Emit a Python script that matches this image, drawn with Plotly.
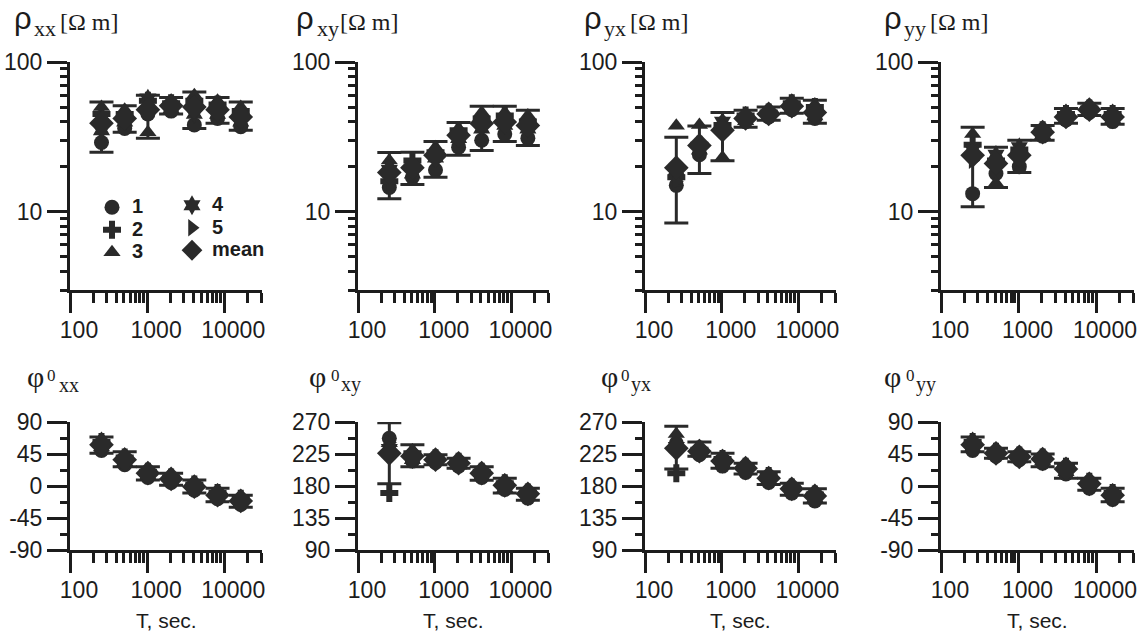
import plotly.graph_objects as go

W, H = 1143, 637

# ---------------- data ----------------
T = [256, 512, 1024, 2048, 4096, 8192, 16384]

# apparent resistivity [Ohm m]
rxx_mean = [39, 42, 48, 51, 50, 48, 43]
rxx_hi = [54, 51, 60, 58, 63, 58, 54]
rxx_lo = [25, 34, 31, 45, 36, 39, 35]
rxx_1 = [29, 36, 45, 47, 38, 42, 37]
rxx_2 = [45, 45, 55, 53, 55, 52, 47]
rxx_3 = [50, 48, 34, 55, 60, 55, 50]
rxx_4 = [35, 40, 57, 49, 45, 45, 40]
rxx_5 = [42, 44, 52, 52, 52, 47, 42]

rxy_mean = [18.3, 19.7, 23.8, 32.4, 38.9, 39.8, 37.7]
rxy_hi = [24.9, 25, 29.5, 39.5, 50.7, 50.7, 47.6]
rxy_lo = [12.2, 15.2, 17, 23.8, 25.6, 29.5, 27.7]
rxy_1 = [14.5, 17, 19, 27, 30, 33, 31]
rxy_2 = [16, 22, 25, 35, 42, 44, 40]
rxy_3 = [22, 21, 27, 36, 46, 46, 44]
rxy_4 = [19, 18, 23, 31, 36, 38, 36]
rxy_5 = [20, 20, 24, 33, 40, 39, 38]

ryx_mean = [19.7, 27.7, 35, 42, 45, 50.7, 46]
ryx_hi = [31.4, 37.3, 46, 47.6, 50, 57.3, 55.6]
ryx_lo = [8.4, 18, 21.9, 36.6, 40.9, 45.5, 39]
ryx_1 = [15, 24, 36, 40, 43, 48, 42]
ryx_2 = [17, 28, 38, 44, 46, 53, 50]
ryx_3 = [37.5, 38, 23, 45, 47, 55, 52]
ryx_4 = [19, 26, 40, 41, 44, 49, 44]
ryx_5 = [16, 25, 37, 42, 45, 50, 45]

ryy_mean = [23.8, 21, 23.8, 34, 43, 48, 43]
ryy_hi = [36.6, 26.9, 30, 37.7, 49, 53, 49]
ryy_lo = [10.8, 14.5, 18.3, 30, 39, 44, 38.4]
ryy_1 = [13.2, 18, 20, 32, 41, 46, 40]
ryy_2 = [28, 22, 26, 35, 45, 49, 45]
ryy_3 = [33, 15.5, 19, 36, 47, 51, 47]
ryy_4 = [26, 24, 27, 33, 42, 47, 42]
ryy_5 = [22, 21, 24, 34, 43, 48, 43]

# phases [deg]
pxx_mean = [58, 37, 18, 10, -1, -13, -21]
pxx_hi = [69, 48, 27, 18, 8.5, -3, -13]
pxx_lo = [46, 27, 8.5, 1, -10, -22, -30]
pxx_1 = [50, 30, 12, 5, -6, -18, -26]
pxx_2 = [62, 40, 20, 12, 2, -10, -18]
pxx_3 = [66, 44, 24, 15, 5, -7, -15]
pxx_4 = [56, 35, 16, 8, -3, -15, -23]
pxx_5 = [58, 37, 18, 10, -1, -13, -21]

pxy_mean = [226, 222, 217, 212, 198, 181, 169]
pxy_hi = [269, 238, 224, 219, 207, 191, 177]
pxy_lo = [183, 207, 210, 205, 188, 170, 160]
pxy_1 = [247, 215, 213, 208, 192, 175, 163]
pxy_2 = [170, 226, 219, 214, 200, 184, 171]
pxy_3 = [240, 230, 221, 216, 204, 187, 174]
pxy_4 = [232, 218, 215, 210, 195, 178, 166]
pxy_5 = [241, 221, 217, 212, 198, 181, 169]

pyx_mean = [233, 229, 215, 205, 191, 176, 166]
pyx_hi = [264, 242, 226, 212, 200, 184, 176]
pyx_lo = [204, 222, 205, 197, 182, 167, 156]
pyx_1 = [240, 224, 208, 199, 185, 170, 159]
pyx_2 = [198, 231, 218, 207, 194, 178, 168]
pyx_3 = [253, 236, 222, 210, 197, 181, 172]
pyx_4 = [235, 227, 212, 203, 189, 174, 164]
pyx_5 = [239, 229, 215, 205, 191, 176, 166]

pyy_mean = [58, 46, 41, 38, 24, 3, -13]
pyy_hi = [69, 53, 48, 45, 32, 11, -3]
pyy_lo = [48, 39, 34, 27, 11, -6, -22]
pyy_1 = [50, 42, 37, 32, 17, -3, -19]
pyy_2 = [62, 48, 43, 40, 27, 6, -10]
pyy_3 = [66, 50, 45, 43, 30, 9, -7]
pyy_4 = [55, 44, 39, 36, 21, 0, -15]
pyy_5 = [58, 46, 41, 38, 24, 3, -13]

station_names = ["1", "2", "3", "4", "5"]
mean_name = "mean"
comp_labels = ["xx", "xy", "yx", "yy"]

x_tickvals = [100, 1000, 10000]
x_ticktext = ["100", "1000", "10000"]
x_minor = [200, 300, 400, 500, 600, 700, 800, 900,
           2000, 3000, 4000, 5000, 6000, 7000, 8000, 9000, 20000, 30000]
rho_tickvals = [10, 100]
rho_ticktext = ["10", "100"]
rho_minor = [3, 4, 5, 6, 7, 8, 9, 20, 30, 40, 50, 60, 70, 80, 90]
phi_ticks_a = [-90, -45, 0, 45, 90]
phi_text_a = ["-90", "-45", "0", "45", "90"]
phi_minor_a = [-67.5, -22.5, 22.5, 67.5]
phi_ticks_b = [90, 135, 180, 225, 270]
phi_text_b = ["90", "135", "180", "225", "270"]
phi_minor_b = [112.5, 157.5, 202.5, 247.5]

panels = [
    (rxx_mean, rxx_lo, rxx_hi, [rxx_1, rxx_2, rxx_3, rxx_4, rxx_5]),
    (rxy_mean, rxy_lo, rxy_hi, [rxy_1, rxy_2, rxy_3, rxy_4, rxy_5]),
    (ryx_mean, ryx_lo, ryx_hi, [ryx_1, ryx_2, ryx_3, ryx_4, ryx_5]),
    (ryy_mean, ryy_lo, ryy_hi, [ryy_1, ryy_2, ryy_3, ryy_4, ryy_5]),
    (pxx_mean, pxx_lo, pxx_hi, [pxx_1, pxx_2, pxx_3, pxx_4, pxx_5]),
    (pxy_mean, pxy_lo, pxy_hi, [pxy_1, pxy_2, pxy_3, pxy_4, pxy_5]),
    (pyx_mean, pyx_lo, pyx_hi, [pyx_1, pyx_2, pyx_3, pyx_4, pyx_5]),
    (pyy_mean, pyy_lo, pyy_hi, [pyy_1, pyy_2, pyy_3, pyy_4, pyy_5]),
]

# ---------------- style ----------------
INK = "#1c1c1c"
MK = "#2a2a2a"
symbols = ["circle", "cross", "triangle-up", "hexagram", "triangle-right"]
col_px = [(70, 262), (358, 549), (645, 836), (941, 1134)]
top_px = (62, 290)
bot_px = (422, 550)
TICKFONT = dict(family="Arial, Liberation Sans", size=23, color=INK)


def xd(a, b):
    return [a / W, b / W]


def yd(a, b):
    return [1 - b / H, 1 - a / H]


fig = go.Figure()

for i, (mean, lo, hi, pts) in enumerate(panels):
    ax = "" if i == 0 else str(i + 1)
    xref, yref = "x" + ax, "y" + ax
    first = i == 0
    # error bars (mean with spread)
    fig.add_trace(go.Scatter(
        x=T, y=mean, xaxis=xref, yaxis=yref, mode="markers",
        marker=dict(size=2, color="rgba(0,0,0,0)"), showlegend=False,
        error_y=dict(type="data", symmetric=False,
                     array=[h - m for h, m in zip(hi, mean)],
                     arrayminus=[m - l for m, l in zip(mean, lo)],
                     color=MK, thickness=3, width=12),
        hoverinfo="skip"))
    for k, s in enumerate(pts):
        fig.add_trace(go.Scatter(
            x=T, y=s, xaxis=xref, yaxis=yref, mode="markers",
            name='<span style="font-size:20px">' + station_names[k] + '</span>',
            legend="legend" if k < 3 else "legend2",
            showlegend=first,
            marker=dict(symbol=symbols[k], size=15, color=MK)))
    fig.add_trace(go.Scatter(
        x=T, y=mean, xaxis=xref, yaxis=yref, mode="markers",
        name='<span style="font-size:20px">' + mean_name + '</span>',
        legend="legend2", showlegend=first,
        marker=dict(symbol="diamond", size=19, color=MK)))

LEGFONT = dict(family="Arial, Liberation Sans", size=15, color=INK, weight="bold")
layout = dict(
    width=W, height=H, margin=dict(l=0, r=0, t=0, b=0, autoexpand=False),
    paper_bgcolor="white", plot_bgcolor="rgba(0,0,0,0)",
    showlegend=True,
    legend=dict(x=92 / W, y=1 - 191 / H, xanchor="left", yanchor="top",
                font=LEGFONT, bgcolor="rgba(0,0,0,0)", itemwidth=30, tracegroupgap=0),
    legend2=dict(x=172 / W, y=1 - 189 / H, xanchor="left", yanchor="top",
                 font=LEGFONT, bgcolor="rgba(0,0,0,0)", itemwidth=30, tracegroupgap=0),
)

for i in range(8):
    ax = "" if i == 0 else str(i + 1)
    col = i % 4
    top = i < 4
    xa = dict(
        domain=xd(*col_px[col]), type="log", range=[2, 4.49],
        anchor="y" + ax, showline=True, linewidth=3, linecolor=INK,
        showgrid=False, zeroline=False, ticks="outside", ticklen=20, tickwidth=3,
        tickcolor=INK, tickmode="array", tickvals=x_tickvals, ticktext=x_ticktext,
        tickfont=TICKFONT, ticklabelshift=9, ticklabelstandoff=-3, automargin=False,
        minor=dict(tickmode="array", tickvals=x_minor, ticks="outside",
                   ticklen=10, tickwidth=3, tickcolor=INK, showgrid=False),
        fixedrange=True)
    if top:
        ya = dict(type="log", range=[0.4771, 2], tickvals=rho_tickvals,
                  ticktext=rho_ticktext,
                  minor=dict(tickmode="array", tickvals=rho_minor, ticks="outside",
                             ticklen=7, tickwidth=3, tickcolor=INK, showgrid=False))
        ydom = yd(*top_px)
    else:
        if col in (1, 2):
            ya = dict(range=[90, 270], tickvals=phi_ticks_b, ticktext=phi_text_b,
                      minor=dict(tickmode="array", tickvals=phi_minor_b, ticks="outside",
                                 ticklen=7, tickwidth=3, tickcolor=INK, showgrid=False))
        else:
            ya = dict(range=[-90, 90], tickvals=phi_ticks_a, ticktext=phi_text_a,
                      minor=dict(tickmode="array", tickvals=phi_minor_a, ticks="outside",
                                 ticklen=7, tickwidth=3, tickcolor=INK, showgrid=False))
        ydom = yd(*bot_px)
    ya.update(dict(domain=ydom, anchor="x" + ax, showline=True, linewidth=3,
                   linecolor=INK, showgrid=False, zeroline=False, ticks="outside",
                   ticklen=20, tickwidth=3, tickcolor=INK, tickmode="array",
                   tickfont=TICKFONT, ticklabelstandoff=0, automargin=False,
                   fixedrange=True))
    layout["xaxis" + ax] = xa
    layout["yaxis" + ax] = ya

# ---------------- panel titles ----------------
ann = []


def label(text, xpx, ybot, size, family):
    ann.append(dict(text=text, x=xpx / W, y=1 - ybot / H, xref="paper", yref="paper",
                    xanchor="left", yanchor="bottom", showarrow=False, borderpad=0,
                    font=dict(family=family, size=size, color=INK)))


SERIF = "Liberation Serif, Times New Roman, serif"
SANS = "Arial, Liberation Sans"
rho_left = [13, 295, 583, 883]
rho_sub_left = [33, 316, 603, 903]
rho_unit_left = [59, 339, 629, 929]
phi_left = [26, 308, 600, 883]
phi_sup_left = [46, 330, 620, 905]
phi_sub_left = [58, 340, 630, 915]
for c in range(4):
    label("ρ", rho_left[c], 37.4, 31, SANS)
    label(comp_labels[c], rho_sub_left[c], 41.8, 22, SERIF)
    label("[Ω m]", rho_unit_left[c], 36.5, 24, SERIF)
    label("φ", phi_left[c], 394, 30, SERIF)
    label("0", phi_sup_left[c], 385.7, 17, SERIF)
    label(comp_labels[c], phi_sub_left[c], 397.3, 20, SERIF)
    a, b = col_px[c]
    ann.append(dict(text="T, sec.", x=(a + b) / 2 / W, y=1 - 620 / H, xref="paper",
                    yref="paper", xanchor="center", yanchor="middle", showarrow=False,
                    font=dict(family="Arial, Liberation Sans", size=21, color=INK)))

layout["annotations"] = ann
fig.update_layout(**layout)
fig.write_html("out.html")
